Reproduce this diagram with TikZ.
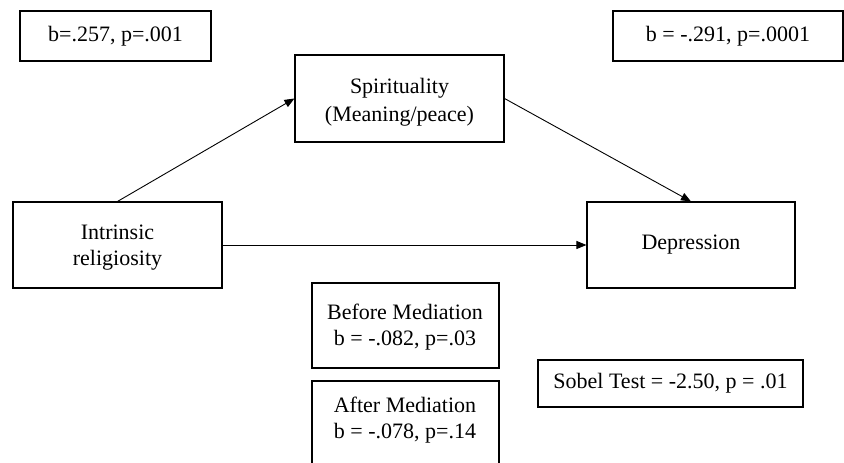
\documentclass[tikz,border=0pt]{standalone}
\usepackage{fontspec}
\setmainfont{Liberation Serif}
\usetikzlibrary{arrows.meta}
\begin{document}
\begin{tikzpicture}[x=1pt,y=1pt,
  box/.style={draw, line width=1.1pt, minimum width=#1, inner sep=0pt, align=center, font=\fontsize{22}{26}\selectfont},
  txt/.style={align=center, inner sep=0pt, font=\fontsize{22}{26}\selectfont},
  conn/.style={line width=0.9pt, -{Triangle[length=10pt,width=8pt]}}]
\useasboundingbox (0,0) rectangle (844,463);
\clip (0,0) rectangle (844,463);
\node[box=191pt, minimum height=50pt] (b1) at (115.5,427) {b=.257, p=.001};
\node[box=230pt, minimum height=50pt] (b2) at (728,427) {b = -.291, p=.0001};
\node[box=209pt, minimum height=87pt] (spi) at (399.5,364.5) {};
\node[txt, font=\fontsize{22}{28}\selectfont] (spiT) at (399.5,361) {Spirituality\\(Meaning/peace)};
\node[box=209pt, minimum height=86pt] (intr) at (117.5,218) {};
\node[txt] (intrT) at (117.5,215) {Intrinsic\\religiosity};
\node[box=208pt, minimum height=86pt] (dep) at (691,218) {Depression};
\node[box=187pt, minimum height=85pt] (before) at (405.5,137.5) {};
\node[txt] (beforeT) at (405,135.5) {Before Mediation\\b = -.082, p=.03};
\node[box=187pt, minimum height=94pt] (after) at (405.5,35) {};
\node[txt] (afterT) at (405,43) {After Mediation\\b = -.078, p=.14};
\node[box=265pt, minimum height=47pt] (sobel) at (670.5,79.5) {Sobel Test = -2.50, p = .01};
\draw[conn] (intr.north) -- (spi.west);
\draw[conn] (spi.east) -- (dep.north);
\draw[conn] (intr.east) -- (dep.west);
\end{tikzpicture}
\end{document}
